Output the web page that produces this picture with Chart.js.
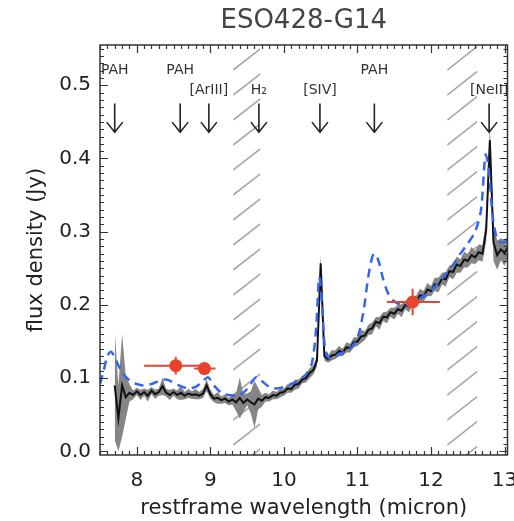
<!DOCTYPE html>
<html>
<head>
<meta charset="utf-8">
<script src="https://cdn.jsdelivr.net/npm/chart.js@4.4.1/dist/chart.umd.min.js"></script>
<style>
  html, body { margin: 0; padding: 0; background: #fff; overflow: hidden; }
</style>
</head>
<body>
<canvas id="graficaEspectro" width="514" height="521"></canvas>
<script>
// IRS spectrum, rest frame (micron / Jy)
var waves = [7.70,7.75,7.80,7.85,7.90,7.95,8.00,8.05,8.10,8.15,8.20,8.25,8.30,8.35,8.40,8.45,8.50,8.55,8.60,8.65,
  8.70,8.75,8.80,8.85,8.90,8.95,9.00,9.05,9.10,9.15,9.20,9.25,9.30,9.35,9.40,9.45,9.50,9.55,9.60,9.65,
  9.70,9.75,9.80,9.85,9.90,9.95,10.00,10.05,10.10,10.15,10.20,10.25,10.30,10.35,10.40,10.45,10.50,10.55,10.60,10.65,
  10.70,10.75,10.80,10.85,10.90,10.95,11.00,11.05,11.10,11.15,11.20,11.25,11.30,11.35,11.40,11.45,11.50,11.55,11.60,11.65,
  11.70,11.75,11.80,11.85,11.90,11.95,12.00,12.05,12.10,12.15,12.20,12.25,12.30,12.35,12.40,12.45,12.50,12.55,12.60,12.65,
  12.70,12.75,12.80,12.85,12.90,12.95,13.00,13.05];
var flux = [0.090,0.045,0.090,0.074,0.080,0.077,0.082,0.077,0.081,0.076,0.083,0.078,0.081,0.089,0.080,0.077,0.081,0.077,0.080,0.076,
  0.079,0.077,0.078,0.076,0.079,0.090,0.078,0.072,0.073,0.070,0.072,0.068,0.071,0.067,0.073,0.066,0.071,0.067,0.064,0.072,
  0.069,0.074,0.073,0.077,0.076,0.080,0.081,0.086,0.085,0.091,0.092,0.098,0.100,0.107,0.111,0.124,0.257,0.130,0.126,0.131,
  0.132,0.137,0.135,0.142,0.141,0.149,0.150,0.157,0.158,0.166,0.168,0.177,0.175,0.184,0.183,0.190,0.188,0.194,0.192,0.200,
  0.198,0.206,0.205,0.213,0.212,0.221,0.219,0.228,0.227,0.236,0.235,0.246,0.245,0.255,0.253,0.262,0.260,0.268,0.265,0.272,
  0.270,0.302,0.425,0.285,0.268,0.276,0.271,0.280];
var fluxErr = [0.075,0.045,0.070,0.030,0.012,0.006,0.005,0.007,0.005,0.008,0.005,0.006,0.005,0.012,0.005,0.007,0.005,0.006,0.010,0.005,
  0.006,0.005,0.007,0.005,0.006,0.008,0.006,0.005,0.008,0.005,0.006,0.005,0.007,0.012,0.028,0.012,0.008,0.015,0.032,0.015,
  0.008,0.006,0.005,0.006,0.005,0.006,0.005,0.006,0.005,0.007,0.006,0.005,0.006,0.007,0.006,0.008,0.012,0.006,0.005,0.007,
  0.006,0.007,0.005,0.007,0.006,0.007,0.006,0.009,0.006,0.007,0.008,0.006,0.009,0.006,0.008,0.006,0.008,0.006,0.009,0.006,
  0.008,0.006,0.008,0.009,0.007,0.009,0.007,0.009,0.010,0.008,0.010,0.008,0.010,0.011,0.009,0.011,0.009,0.011,0.009,0.011,
  0.011,0.015,0.020,0.025,0.020,0.015,0.018,0.014];

// best-fit model
var modelWaves = [7.50,7.55,7.60,7.65,7.70,7.80,7.90,8.00,8.10,8.20,8.30,8.40,8.50,8.60,8.70,8.80,8.90,8.97,9.05,9.15,
  9.25,9.35,9.45,9.55,9.62,9.70,9.80,9.90,10.00,10.10,10.20,10.30,10.38,10.44,10.48,10.52,10.56,10.62,10.70,10.80,
  10.90,11.00,11.08,11.15,11.22,11.28,11.35,11.42,11.50,11.60,11.70,11.80,11.90,12.00,12.10,12.20,12.30,12.40,12.50,12.60,
  12.68,12.74,12.78,12.84,12.90,12.96,13.05];
var modelFlux = [0.092,0.110,0.130,0.136,0.128,0.108,0.097,0.092,0.090,0.092,0.096,0.098,0.094,0.089,0.086,0.088,0.096,0.101,0.090,0.080,
  0.077,0.076,0.080,0.092,0.101,0.096,0.088,0.086,0.088,0.092,0.097,0.105,0.120,0.170,0.238,0.200,0.140,0.127,0.130,0.135,
  0.140,0.155,0.190,0.240,0.270,0.262,0.235,0.215,0.205,0.200,0.201,0.206,0.212,0.220,0.230,0.242,0.255,0.270,0.284,0.300,
  0.330,0.405,0.390,0.320,0.290,0.285,0.288];

// photometry with filter widths
var photWaves = [8.53, 8.92, 11.75];
var photFlux = [0.117, 0.113, 0.204];
var photXmin = [8.10, 8.78, 11.40];
var photXmax = [8.90, 9.07, 12.12];
var photErr = [0.012, 0.005, 0.018];

// line identifications
var lineNames = ['PAH', 'PAH', '[ArIII]', 'H₂', '[SIV]', 'PAH', '[NeII]'];
var lineWaves = [7.70, 8.59, 8.98, 9.66, 10.49, 11.23, 12.79];

// masked ranges
var maskStart = [9.31, 12.22];
var maskEnd = [9.68, 12.63];

var xTicks = [8, 9, 10, 11, 12, 13];
var yTicks = [0, 0.1, 0.2, 0.3, 0.4, 0.5];

function pares(xs, ys) {
    return xs.map(function(x, i) { return {x: x, y: ys[i]}; });
}

// hatched masks behind everything
var tramado = {
    id: 'tramado',
    beforeDatasetsDraw: function(chart) {
        var ctx = chart.ctx, a = chart.chartArea, xs = chart.scales.x;
        ctx.save();
        ctx.strokeStyle = '#a8a8a8';
        ctx.lineWidth = 1.6;
        maskStart.forEach(function(x0, i) {
            var p0 = xs.getPixelForValue(x0), p1 = xs.getPixelForValue(maskEnd[i]);
            ctx.save();
            ctx.beginPath();
            ctx.rect(p0, a.top, p1 - p0, a.bottom - a.top);
            ctx.clip();
            ctx.beginPath();
            for (var y = a.bottom + 40; y > a.top - 10; y -= 25) {
                ctx.moveTo(p0, y);
                ctx.lineTo(p1, y - (p1 - p0) * 0.78);
            }
            ctx.stroke();
            ctx.restore();
        });
        ctx.restore();
    }
};

// arrows, labels, photometry bars
var anotaciones = {
    id: 'anotaciones',
    afterDatasetsDraw: function(chart) {
        var ctx = chart.ctx, xs = chart.scales.x, ys = chart.scales.y;
        ctx.save();
        ctx.strokeStyle = '#222';
        ctx.lineWidth = 1.6;
        ctx.fillStyle = '#333';
        ctx.font = '14px "DejaVu Sans"';
        ctx.textAlign = 'center';
        ctx.textBaseline = 'middle';
        var yTop = ys.getPixelForValue(0.475), yTip = ys.getPixelForValue(0.436);
        lineWaves.forEach(function(w, i) {
            var px = xs.getPixelForValue(w);
            ctx.beginPath();
            ctx.moveTo(px, yTop);
            ctx.lineTo(px, yTip);
            ctx.moveTo(px - 8, yTip - 10);
            ctx.lineTo(px, yTip);
            ctx.lineTo(px + 8, yTip - 10);
            ctx.stroke();
            var fila = lineNames[i] === 'PAH' ? 0.52 : 0.493;
            ctx.fillText(lineNames[i], px, ys.getPixelForValue(fila));
        });

        ctx.strokeStyle = '#e8432b';
        ctx.lineWidth = 2;
        photWaves.forEach(function(w, i) {
            var py = ys.getPixelForValue(photFlux[i]);
            var px = xs.getPixelForValue(w);
            ctx.beginPath();
            ctx.moveTo(xs.getPixelForValue(photXmin[i]), py);
            ctx.lineTo(xs.getPixelForValue(photXmax[i]), py);
            ctx.moveTo(px, ys.getPixelForValue(photFlux[i] - photErr[i]));
            ctx.lineTo(px, ys.getPixelForValue(photFlux[i] + photErr[i]));
            ctx.stroke();
        });
        ctx.restore();
    }
};

// box with inward ticks on all four sides, plus the title
var marco = {
    id: 'marco',
    afterDraw: function(chart) {
        var ctx = chart.ctx, a = chart.chartArea, xs = chart.scales.x, ys = chart.scales.y;
        ctx.save();
        ctx.strokeStyle = '#333';
        ctx.lineWidth = 1.5;
        ctx.strokeRect(a.left, a.top, a.right - a.left, a.bottom - a.top);
        ctx.lineWidth = 1.2;
        ctx.beginPath();
        for (var k = 75; k <= 130; k++) {
            var px = Math.round(xs.getPixelForValue(k / 10)) + 0.5;
            var len = (k % 10 === 0) ? 8 : 4;
            ctx.moveTo(px, a.bottom); ctx.lineTo(px, a.bottom - len);
            ctx.moveTo(px, a.top); ctx.lineTo(px, a.top + len);
        }
        for (var j = 0; j <= 55; j++) {
            var py = Math.round(ys.getPixelForValue(j / 100)) + 0.5;
            var l = (j % 10 === 0) ? 8 : 4;
            ctx.moveTo(a.left, py); ctx.lineTo(a.left + l, py);
            ctx.moveTo(a.right, py); ctx.lineTo(a.right - l, py);
        }
        ctx.stroke();

        ctx.fillStyle = '#444';
        ctx.font = '26px "DejaVu Sans"';
        ctx.textAlign = 'center';
        ctx.textBaseline = 'middle';
        ctx.fillText('ESO428-G14', (a.left + a.right) / 2, 21);
        ctx.restore();
    }
};

document.addEventListener("DOMContentLoaded", function() {

    Chart.defaults.font.family = '"DejaVu Sans"';
    Chart.defaults.color = '#222';

    var upper = flux.map(function(f, i) { return f + fluxErr[i]; });
    var lower = flux.map(function(f, i) { return Math.max(f - fluxErr[i], 0); });

    var ctx = document.getElementById('graficaEspectro').getContext('2d');

    var myChart = new Chart(ctx, {
        type: 'line',
        data: {
            datasets: [
                {
                    label: 'upper',
                    data: pares(waves, upper),
                    borderWidth: 0,
                    pointRadius: 0,
                    backgroundColor: '#858585',
                    fill: '+1',
                    order: 4
                },
                {
                    label: 'lower',
                    data: pares(waves, lower),
                    borderWidth: 0,
                    pointRadius: 0,
                    fill: false,
                    order: 5
                },
                {
                    label: 'spectrum',
                    data: pares(waves, flux),
                    borderColor: '#111',
                    borderWidth: 2,
                    pointRadius: 0,
                    fill: false,
                    order: 3
                },
                {
                    label: 'model',
                    data: pares(modelWaves, modelFlux),
                    borderColor: '#3466ee',
                    borderWidth: 2.5,
                    borderDash: [9, 6],
                    pointRadius: 0,
                    tension: 0.3,
                    fill: false,
                    order: 2
                },
                {
                    label: 'photometry',
                    data: pares(photWaves, photFlux),
                    showLine: false,
                    pointRadius: 6.5,
                    pointBackgroundColor: '#e8432b',
                    pointBorderWidth: 0,
                    order: 1
                }
            ]
        },
        options: {
            responsive: false,
            animation: false,
            layout: { padding: { top: 45, right: 1, left: 0, bottom: 0 } },
            plugins: {
                legend: { display: false },
                tooltip: { enabled: false },
                title: { display: false }
            },
            scales: {
                x: {
                    type: 'linear',
                    min: 7.5,
                    max: 13.04,
                    grid: { display: false, drawTicks: false },
                    border: { display: false },
                    ticks: { font: { size: 20 }, padding: 14, maxRotation: 0, autoSkip: false, color: '#222' },
                    afterBuildTicks: function(s) { s.ticks = xTicks.map(function(v) { return {value: v}; }); },
                    afterFit: function(s) { s.height = 66; s.paddingLeft = 0; s.paddingRight = 0; },
                    title: {
                        display: true,
                        text: 'restframe wavelength (micron)',
                        font: { size: 21 },
                        color: '#222',
                        padding: { top: 0, bottom: 0 }
                    }
                },
                y: {
                    min: -0.005,
                    max: 0.555,
                    grid: { display: false, drawTicks: false },
                    border: { display: false },
                    ticks: {
                        font: { size: 20 },
                        padding: 9,
                        color: '#222',
                        callback: function(value) { return value.toFixed(1); }
                    },
                    afterBuildTicks: function(s) { s.ticks = yTicks.map(function(v) { return {value: v}; }); },
                    afterFit: function(s) { s.width = 100; s.paddingTop = 0; s.paddingBottom = 0; },
                    title: {
                        display: true,
                        text: 'flux density (Jy)',
                        font: { size: 21 },
                        color: '#222',
                        padding: { top: 24, bottom: 0 }
                    }
                }
            }
        },
        plugins: [tramado, anotaciones, marco]
    });
});
</script>
</body>
</html>
